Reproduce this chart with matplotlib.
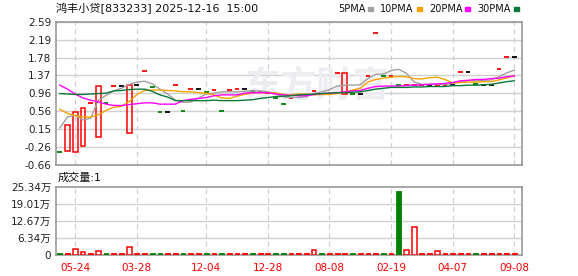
import matplotlib
matplotlib.use("Agg")
import matplotlib.pyplot as plt
from matplotlib.patches import Rectangle

plt.rcParams['font.family'] = ['DejaVu Sans', 'Noto Sans CJK SC']

# ---- data ----
title = "鸿丰小贷[833233] 2025-12-16  15:00"
tick_pos = [2, 10, 19, 27, 35, 43, 51, 59]
tick_labels = ["05-24", "03-28", "12-04", "12-28", "08-08", "02-19", "04-07", "09-08"]
price_ticks = ["-0.66", "-0.26", "0.15", "0.56", "0.96", "1.37", "1.78", "2.19", "2.59"]
vol_ticks = ["0", "6.34万", "12.67万", "19.01万", "25.34万"]

candle_open = [-0.37, -0.35, -0.37, -0.24, 0.74, -0.03, 0.75, 1.13, 1.13, 0.06,
               1.15, 1.465, 1.115, 0.55, 0.55, 1.15, 0.56, 1.06, 1.06, 1.00,
               1.035, 0.56, 1.035, 1.06, 1.06, 1.025, 0.99, 0.98, 0.85, 0.72,
               0.85, 0.92, 0.93, 1.01, 0.95, 0.96, 1.42, 0.95, 0.94, 0.94,
               1.36, 2.33, 1.35, 1.35, 1.15, 1.15, 1.16, 1.16, 1.15, 1.16,
               1.16, 1.15, 1.44, 1.44, 1.17, 1.15, 1.15, 1.52, 1.80, 1.80]
candle_close = [-0.37, 0.24, 0.55, 0.63, 0.74, 1.13, 0.75, 1.13, 1.13, 1.15,
                1.15, 1.465, 1.115, 0.55, 0.55, 1.15, 0.56, 1.06, 1.06, 1.00,
                1.035, 0.56, 1.035, 1.06, 1.06, 1.025, 0.99, 0.98, 0.85, 0.72,
                0.85, 0.92, 0.93, 1.01, 0.95, 0.96, 1.42, 1.42, 0.94, 0.94,
                1.36, 2.33, 1.35, 1.35, 1.15, 1.15, 1.16, 1.16, 1.15, 1.16,
                1.16, 1.15, 1.44, 1.44, 1.17, 1.15, 1.15, 1.52, 1.80, 1.80]
candle_color = ["g", "r", "r", "r", "r", "r", "g", "r", "k", "r",
                "k", "r", "g", "g", "k", "r", "g", "r", "k", "g",
                "r", "g", "r", "r", "k", "g", "r", "r", "g", "g",
                "r", "r", "r", "r", "g", "r", "r", "r", "g", "k",
                "r", "r", "g", "r", "g", "r", "r", "r", "k", "r",
                "r", "k", "r", "k", "g", "k", "k", "r", "r", "k"]

ma5 = [0.18, 0.43, 0.47, 0.36, 0.40, 0.81, 0.92, 1.02, 1.08, 1.17,
       1.22, 1.24, 1.18, 1.06, 0.95, 0.81, 0.76, 0.77, 0.86, 0.95,
       0.97, 1.00, 1.00, 1.00, 1.01, 1.02, 1.02, 1.00, 0.95, 0.89,
       0.87, 0.87, 0.89, 0.96, 1.00, 1.05, 1.13, 1.15, 1.15, 1.16,
       1.30, 1.40, 1.40, 1.48, 1.51, 1.42, 1.22, 1.17, 1.17, 1.17,
       1.17, 1.19, 1.23, 1.25, 1.25, 1.26, 1.27, 1.34, 1.43, 1.49]
ma10 = [0.60, 0.51, 0.46, 0.43, 0.43, 0.48, 0.58, 0.65, 0.67, 0.78,
        0.94, 1.03, 1.04, 1.04, 1.03, 1.02, 1.00, 1.00, 0.98, 0.97,
        0.93, 0.86, 0.85, 0.90, 0.94, 0.97, 0.98, 0.98, 0.98, 0.94,
        0.93, 0.95, 0.95, 0.93, 0.94, 0.94, 0.96, 0.99, 1.04, 1.08,
        1.22, 1.28, 1.31, 1.33, 1.35, 1.34, 1.30, 1.29, 1.32, 1.33,
        1.28, 1.20, 1.21, 1.22, 1.22, 1.23, 1.23, 1.27, 1.31, 1.37]
ma20 = [1.15, 1.06, 0.95, 0.86, 0.81, 0.77, 0.72, 0.69, 0.69, 0.71,
        0.73, 0.75, 0.75, 0.72, 0.72, 0.72, 0.80, 0.83, 0.85, 0.87,
        0.91, 0.93, 0.93, 0.93, 0.97, 0.98, 0.98, 0.98, 0.95, 0.93,
        0.92, 0.91, 0.91, 0.94, 0.96, 0.97, 0.98, 1.00, 1.02, 1.03,
        1.08, 1.12, 1.13, 1.13, 1.13, 1.14, 1.15, 1.16, 1.17, 1.18,
        1.19, 1.21, 1.25, 1.26, 1.28, 1.28, 1.30, 1.31, 1.34, 1.36]
ma30 = [0.96, 0.95, 0.94, 0.94, 0.95, 0.96, 0.97, 1.02, 1.03, 1.05,
        1.06, 1.06, 1.01, 0.93, 0.88, 0.80, 0.80, 0.80, 0.80, 0.80,
        0.81, 0.80, 0.80, 0.80, 0.81, 0.82, 0.85, 0.87, 0.89, 0.90,
        0.91, 0.93, 0.94, 0.95, 0.96, 0.97, 0.98, 0.98, 0.99, 1.00,
        1.03, 1.06, 1.08, 1.10, 1.10, 1.10, 1.11, 1.11, 1.12, 1.12,
        1.12, 1.14, 1.14, 1.15, 1.15, 1.16, 1.17, 1.20, 1.23, 1.25]

# volume in 万, style: h = hollow red, r = filled red, g = filled green
volume = [0.6, 0.6, 2.2, 1.1, 0.6, 1.5, 0.6, 0.6, 0.6, 2.85,
          0.6, 0.6, 0.6, 0.85, 0.6, 0.6, 0.6, 0.6, 0.6, 0.6,
          0.6, 0.6, 0.6, 0.6, 0.6, 0.6, 0.6, 0.6, 0.6, 0.6,
          0.6, 0.6, 0.6, 1.7, 0.6, 0.6, 0.6, 0.6, 0.6, 0.6,
          0.6, 0.6, 0.6, 0.6, 23.7, 1.7, 10.3, 0.85, 0.6, 1.3,
          0.75, 0.6, 0.6, 0.6, 0.6, 0.6, 0.6, 0.6, 0.6, 0.6]
volume_style = ["g", "r", "h", "h", "r", "h", "g", "r", "r", "h",
                "r", "r", "g", "g", "r", "r", "g", "r", "r", "g",
                "r", "g", "r", "r", "r", "g", "r", "r", "g", "g",
                "r", "r", "r", "h", "g", "r", "r", "r", "g", "r",
                "r", "r", "g", "r", "g", "h", "h", "r", "r", "h",
                "r", "r", "r", "r", "g", "r", "r", "r", "r", "r"]

RED = "#ff0000"
GREEN = "#008000"
GRID = "#d0d0d0"
FRAME = "#999999"
ma_colors = {"5PMA": "#a0a0a0", "10PMA": "#f5a300", "20PMA": "#ff00ff", "30PMA": "#0a7a3a"}
cmap = {"r": RED, "g": GREEN, "k": "#000000"}


def style_axes(ax):
    for s in ax.spines.values():
        s.set_color(FRAME)
        s.set_linewidth(1.2)
        s.set_zorder(1)
    ax.tick_params(length=0, labelsize=7.5, colors="#222222")
    ax.set_xlim(-0.5, 60)
    ax.set_xticks(tick_pos)
    for t in tick_pos:
        ax.axvline(t, color=GRID, lw=0.9, ls=(0, (4, 3)), zorder=0)


fig = plt.figure(figsize=(5.78, 2.76), dpi=100)
ax = fig.add_axes([56 / 578, 1 - 165 / 276, 466 / 578, (165 - 21.7) / 276])
axv = fig.add_axes([56 / 578, 1 - 255 / 276, 466 / 578, (255 - 186.7) / 276])

# price panel
style_axes(ax)
lo, hi = -0.66, 2.59
yt = [lo + (hi - lo) * k / 8 for k in range(9)]
ax.set_ylim(lo, hi)
ax.set_yticks(yt)
ax.set_yticklabels(price_ticks)
ax.set_xticklabels([])
for y in yt:
    ax.axhline(y, color=GRID, lw=1.0, zorder=0)

ax.text(0.56, 0.55, "东方财富", transform=ax.transAxes, fontsize=26, fontweight="bold",
        color="#ececf1", family=["Noto Sans CJK SC"], ha="center", va="center", zorder=0)

w = 0.62
for i, (o, c, col) in enumerate(zip(candle_open, candle_close, candle_color)):
    if abs(c - o) < 1e-6:
        ax.hlines(o, i - w / 2, i + w / 2, color=cmap[col], lw=1.3, zorder=2)
    else:
        ax.add_patch(Rectangle((i - w / 2, min(o, c)), w, abs(c - o), fill=False,
                               edgecolor=cmap[col], lw=1.1, zorder=2))

xs = list(range(len(ma5)))
for name, vals in zip(ma_colors, [ma5, ma10, ma20, ma30]):
    ax.plot(xs, vals, color=ma_colors[name], lw=1.0, zorder=3)

# volume panel
style_axes(axv)
axv.set_ylim(0, 25.34)
axv.set_yticks([0, 6.34, 12.67, 19.01, 25.34])
axv.set_yticklabels(vol_ticks)
for y in [6.34, 12.67, 19.01]:
    axv.axhline(y, color=GRID, lw=1.0, zorder=0)
axv.set_xticklabels(tick_labels, color=RED, fontsize=7.5)
axv.tick_params(axis="x", pad=6, colors=RED)
for i, (v, st) in enumerate(zip(volume, volume_style)):
    if st == "h":
        axv.bar(i, v, width=w, facecolor="white", edgecolor=RED, lw=1.1, zorder=2)
    else:
        col = RED if st == "r" else GREEN
        axv.bar(i, v, width=w, color=col, edgecolor=col, lw=0.6, zorder=2)

# header texts
fig.text(56 / 578, 1 - 8 / 276, title, fontsize=8, va="center", ha="left", color="#111111")
fig.text(58 / 578, 1 - 178 / 276, "成交量:1", fontsize=8, va="center", ha="left", color="#111111")

renderer = fig.canvas.get_renderer()
lx = 338
for name, col in ma_colors.items():
    t = fig.text(lx / 578, 1 - 9 / 276, name, fontsize=7, va="center", ha="left", color="#111111")
    tw = t.get_window_extent(renderer).width
    fig.patches.append(Rectangle(((lx + tw + 3) / 578, 1 - 10.5 / 276), 5 / 578, 3 / 276,
                                 transform=fig.transFigure, color=col, figure=fig))
    lx += tw + 15

fig.savefig("out.png", dpi=100)
plt.close(fig)
